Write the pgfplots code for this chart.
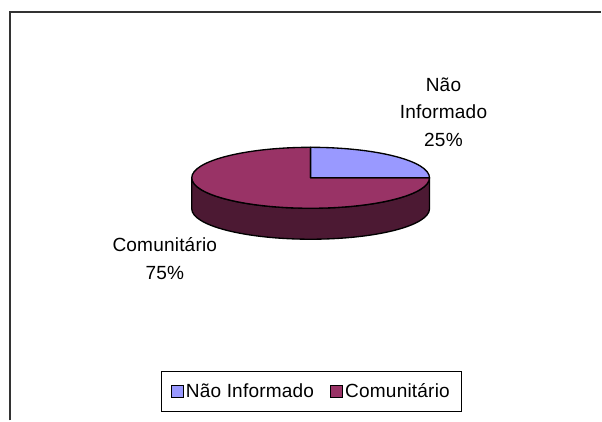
\documentclass[border=0pt]{standalone}
\usepackage{pgfplots}
\usepackage{pgfplotstable}
\pgfplotsset{compat=1.18}
\usepackage{fontspec}
\setmainfont[LetterSpace=1]{Liberation Sans}
\definecolor{cblue}{HTML}{9999FF}
\definecolor{cmaroon}{HTML}{993366}
\definecolor{cside}{HTML}{4C1933}
\definecolor{cframe}{HTML}{333333}
\pgfplotstableread{
label value
NaoInformado 25
Comunitario 75
}\piedata
\begin{document}
\begin{tikzpicture}
\pgfplotstablegetelem{0}{value}\of\piedata \let\va\pgfplotsretval
\pgfplotstablegetelem{1}{value}\of\piedata \let\vb\pgfplotsretval
\pgfmathsetmacro{\tot}{\va+\vb}
\pgfmathsetmacro{\aA}{90}
\pgfmathsetmacro{\aB}{90-360*(\va/\tot)}
\pgfmathsetmacro{\aC}{\aB-360*(\vb/\tot)}
\def\rx{89.25pt}
\def\ry{22.875pt}
\begin{axis}[
  width=451.5pt, height=315.75pt, scale only axis,
  xmin=0, xmax=602, ymin=0, ymax=421,
  axis lines=none, clip=false,
  legend style={at={(axis cs:312,29)}, anchor=center, draw=black, line width=0.6pt,
    font=\fontsize{14.3}{16}\selectfont, inner xsep=7pt, inner ysep=7pt,
    /tikz/every even column/.append style={column sep=10pt}},
  legend columns=-1,
  legend image code/.code={\draw[#1, draw=black, line width=0.6pt] (0pt,-4.4pt) rectangle (8.8pt,4.4pt);},
]
\path (axis cs:0,0) rectangle (axis cs:602,421);
% frame
\draw[cframe, line width=1.1pt] (axis cs:10,0) -- (axis cs:10,409) -- (axis cs:602,409);
% side wall
\filldraw[fill=cside, draw=black, line width=1pt, line join=round]
  (axis cs:192,243) arc[start angle=180, end angle=360, x radius=\rx, y radius=\ry]
  -- (axis cs:430,212) arc[start angle=360, end angle=180, x radius=\rx, y radius=\ry] -- cycle;
% top slices
\filldraw[fill=cmaroon, draw=black, line width=1pt, line join=round]
  (axis cs:311,243) -- ++({89.25*cos(\aB)*1pt},{22.875*sin(\aB)*1pt})
  arc[start angle=\aB, end angle=\aC, x radius=\rx, y radius=\ry] -- cycle;
\filldraw[fill=cblue, draw=black, line width=1pt, line join=round]
  (axis cs:311,243) -- ++({89.25*cos(\aA)*1pt},{22.875*sin(\aA)*1pt})
  arc[start angle=\aA, end angle=\aB, x radius=\rx, y radius=\ry] -- cycle;
% labels
\node[align=center, font=\fontsize{14.3}{20.6}\selectfont] at (axis cs:444,309) {Não\\Informado\\25\%};
\node[align=center, font=\fontsize{14.3}{20.6}\selectfont] at (axis cs:165,162) {Comunitário\\75\%};
\addlegendimage{fill=cblue}
\addlegendentry{Não Informado}
\addlegendimage{fill=cmaroon}
\addlegendentry{Comunitário}
\end{axis}
\end{tikzpicture}
\end{document}
